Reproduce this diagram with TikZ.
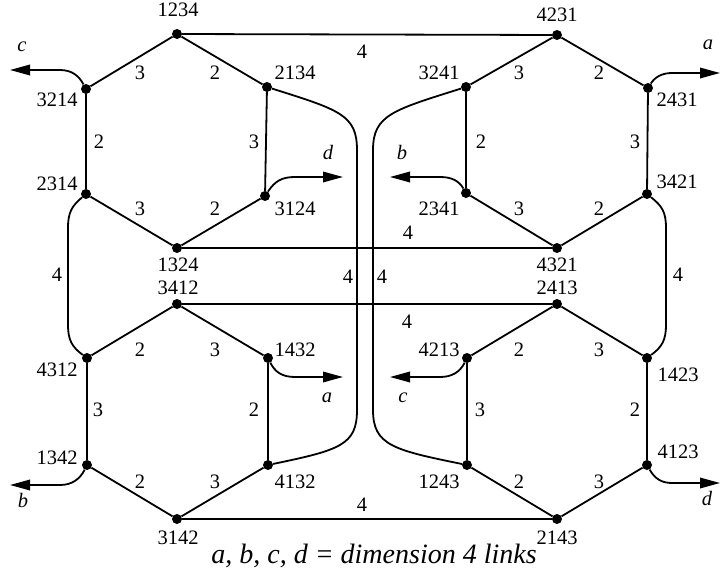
\documentclass[tikz,border=0pt]{standalone}
\usepackage{fontspec}
\setmainfont{Liberation Serif}
\newfontfamily\tnr{Liberation Serif}
\usetikzlibrary{arrows.meta}
\begin{document}
\begin{tikzpicture}[x=1pt,y=-1pt,
  vtx/.style={circle,fill=black,inner sep=0pt,minimum size=10pt},
  lbl/.style={inner sep=0pt,font=\tnr\fontsize{20.5}{24}\selectfont},
  dimlbl/.style={inner sep=0pt,font=\tnr\fontsize{20.5}{24}\selectfont\itshape},
  caplbl/.style={inner sep=0pt,font=\tnr\fontsize{28}{32}\selectfont\itshape},
  link/.style={line width=1.8pt},
  outarrow/.style={line width=1.8pt,-{Triangle[length=20pt,width=10.5pt]}},
]
\useasboundingbox (0,0) rectangle (720,578);

% vertices
\node[vtx] (n1234) at (177,34) {};
\node[vtx] (n2134) at (267,87) {};
\node[vtx] (n3124) at (265,196) {};
\node[vtx] (n1324) at (177,248) {};
\node[vtx] (n2314) at (86,194) {};
\node[vtx] (n3214) at (86,89) {};

\node[vtx] (n4231) at (557,35) {};
\node[vtx] (n2431) at (648,88) {};
\node[vtx] (n3421) at (647,194) {};
\node[vtx] (n4321) at (557,248) {};
\node[vtx] (n2341) at (466,193) {};
\node[vtx] (n3241) at (466,87) {};

\node[vtx] (n3412) at (177,304) {};
\node[vtx] (n1432) at (268,358) {};
\node[vtx] (n4132) at (268,465) {};
\node[vtx] (n3142) at (177,519) {};
\node[vtx] (n1342) at (87,465) {};
\node[vtx] (n4312) at (87,358) {};

\node[vtx] (n2413) at (557,304) {};
\node[vtx] (n1423) at (647,358) {};
\node[vtx] (n4123) at (647,465) {};
\node[vtx] (n2143) at (557,519) {};
\node[vtx] (n1243) at (467,465) {};
\node[vtx] (n4213) at (467,358) {};

% hexagon edges
\draw[link] (n1234) -- (n2134) -- (n3124) -- (n1324) -- (n2314) -- (n3214) -- (n1234);
\draw[link] (n4231) -- (n2431) -- (n3421) -- (n4321) -- (n2341) -- (n3241) -- (n4231);
\draw[link] (n3412) -- (n1432) -- (n4132) -- (n3142) -- (n1342) -- (n4312) -- (n3412);
\draw[link] (n2413) -- (n1423) -- (n4123) -- (n2143) -- (n1243) -- (n4213) -- (n2413);

% dimension 4 horizontal links
\draw[link] (n1234) -- (n4231);
\draw[link] (n1324) -- (n4321);
\draw[link] (n3412) -- (n2413);
\draw[link] (n3142) -- (n2143);

% dimension 4 curved links
\draw[link] (n2134) .. controls (340,110) and (357,115) .. (357,150) -- (357,410) .. controls (357,445) and (340,450) .. (n4132);
\draw[link] (n3241) .. controls (393,110) and (373,115) .. (373,150) -- (373,410) .. controls (373,445) and (393,450) .. (n1243);
\draw[link] (n2314) .. controls (72,206) and (68,212) .. (68,228) -- (68,325) .. controls (68,340) and (72,347) .. (n4312);
\draw[link] (n3421) .. controls (662,206) and (666,212) .. (666,228) -- (666,325) .. controls (666,340) and (662,347) .. (n1423);

% outgoing arrows
\coordinate (tc1) at (10,70);
\coordinate (td1) at (343,177);
\coordinate (ta1) at (720,73);
\coordinate (tb1) at (390,177);
\coordinate (ta2) at (343,377);
\coordinate (tc2) at (390,377);
\coordinate (tb2) at (10,485);
\coordinate (td2) at (720,483);
\draw[outarrow] (n3214) .. controls (79,76) and (72,70) .. (60,70) -- (tc1);
\draw[outarrow] (n3124) .. controls (275,181) and (282,177) .. (295,177) -- (td1);
\draw[outarrow] (n2431) .. controls (655,77) and (662,73) .. (672,73) -- (ta1);
\draw[outarrow] (n2341) .. controls (459,181) and (452,177) .. (440,177) -- (tb1);
\draw[outarrow] (n1432) .. controls (275,372) and (282,377) .. (295,377) -- (ta2);
\draw[outarrow] (n4213) .. controls (460,372) and (452,377) .. (440,377) -- (tc2);
\draw[outarrow] (n1342) .. controls (80,479) and (72,485) .. (60,485) -- (tb2);
\draw[outarrow] (n4123) .. controls (655,479) and (662,483) .. (672,483) -- (td2);

% arrow letters
\node[dimlbl] (lc1) at (22,47) {c};
\node[dimlbl] (ld1) at (328,152) {d};
\node[dimlbl] (la1) at (708,45) {a};
\node[dimlbl] (lb1) at (402,152) {b};
\node[dimlbl] (la2) at (327,398) {a};
\node[dimlbl] (lc2) at (403,398) {c};
\node[dimlbl] (lb2) at (23,500) {b};
\node[dimlbl] (ld2) at (707,498) {d};

% vertex labels
\node[lbl] (l1234) at (178,10) {1234};
\node[lbl] (l2134) at (295,73) {2134};
\node[lbl] (l3214) at (57,100) {3214};
\node[lbl] (l2314) at (57,184) {2314};
\node[lbl] (l3124) at (295,209) {3124};
\node[lbl] (l1324) at (178,265) {1324};

\node[lbl] (l4231) at (557,15) {4231};
\node[lbl] (l3241) at (439,73) {3241};
\node[lbl] (l2431) at (677,100) {2431};
\node[lbl] (l3421) at (677,182) {3421};
\node[lbl] (l2341) at (439,209) {2341};
\node[lbl] (l4321) at (557,265) {4321};

\node[lbl] (l3412) at (178,288) {3412};
\node[lbl] (l1432) at (295,350) {1432};
\node[lbl] (l4312) at (57,370) {4312};
\node[lbl] (l1342) at (57,458) {1342};
\node[lbl] (l4132) at (295,482) {4132};
\node[lbl] (l3142) at (178,538) {3142};

\node[lbl] (l2413) at (557,288) {2413};
\node[lbl] (l4213) at (439,350) {4213};
\node[lbl] (l1423) at (678,375) {1423};
\node[lbl] (l4123) at (678,452) {4123};
\node[lbl] (l1243) at (439,482) {1243};
\node[lbl] (l2143) at (557,538) {2143};

% edge labels, top-left
\node[lbl] (e01) at (140,73) {3};
\node[lbl] (e02) at (215,73) {2};
\node[lbl] (e03) at (99,142) {2};
\node[lbl] (e04) at (254,142) {3};
\node[lbl] (e05) at (140,209) {3};
\node[lbl] (e06) at (215,209) {2};
% top-right
\node[lbl] (e07) at (519,73) {3};
\node[lbl] (e08) at (599,73) {2};
\node[lbl] (e09) at (481,142) {2};
\node[lbl] (e10) at (635,142) {3};
\node[lbl] (e11) at (519,209) {3};
\node[lbl] (e12) at (599,209) {2};
% bottom-left
\node[lbl] (e13) at (140,350) {2};
\node[lbl] (e14) at (215,350) {3};
\node[lbl] (e15) at (98,410) {3};
\node[lbl] (e16) at (254,410) {2};
\node[lbl] (e17) at (140,482) {2};
\node[lbl] (e18) at (215,482) {3};
% bottom-right
\node[lbl] (e19) at (519,350) {2};
\node[lbl] (e20) at (599,350) {3};
\node[lbl] (e21) at (480,410) {3};
\node[lbl] (e22) at (635,410) {2};
\node[lbl] (e23) at (519,482) {2};
\node[lbl] (e24) at (599,482) {3};
% dimension 4 labels
\node[lbl] (f1) at (362,52) {4};
\node[lbl] (f2) at (408,233) {4};
\node[lbl] (f3) at (348,277) {4};
\node[lbl] (f4) at (382,277) {4};
\node[lbl] (f5) at (407,322) {4};
\node[lbl] (f6) at (362,505) {4};
\node[lbl] (f7) at (57,275) {4};
\node[lbl] (f8) at (678,275) {4};

% caption
\node[caplbl] (cap) at (374,556) {a, b, c, d = dimension 4 links};
\end{tikzpicture}
\end{document}
